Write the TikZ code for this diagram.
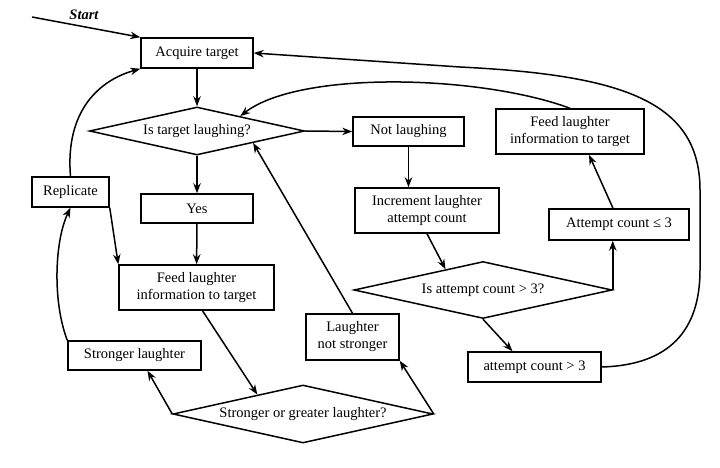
\documentclass[tikz,border=0pt]{standalone}
\usepackage{fontspec}
\setmainfont{Liberation Serif}
\usepackage{tikz}
\usetikzlibrary{arrows.meta,calc,positioning,shapes.geometric}

\begin{document}
\begin{tikzpicture}[x=1pt,y=-1pt,
    line width=1.5pt,
    every node/.style={font=\fontsize{14.5}{17}\selectfont},
    box/.style={draw,rectangle,inner sep=0pt,align=center},
    choice/.style={draw,diamond,inner sep=0pt,aspect=4.5},
    arr/.style={-{Stealth[length=10pt,width=7.5pt]}}]
  \useasboundingbox (0,0) rectangle (720,468);
  % main column
  \node[box,minimum width=112,minimum height=30] (acq) at (197,53) {Acquire target};
  \node[choice,minimum width=215,minimum height=48] (dlaugh) at (197,131) {Is target laughing?};
  \node[box,minimum width=112,minimum height=29] (yes) at (197,208.5) {Yes};
  \node[box,minimum width=155,minimum height=45] (feedl) at (196.5,287.5) {Feed laughter\\information to target};
  \node[choice,minimum width=260,minimum height=58] (dstrong) at (303,414) {Stronger or greater laughter?};
  \node[box,minimum width=133,minimum height=29] (strong) at (134.5,355.5) {Stronger laughter};
  \node[box,minimum width=77,minimum height=30] (repl) at (70.5,192) {Replicate};
  \node[box,minimum width=93,minimum height=46] (notstr) at (352.5,337) {Laughter\\not stronger};
  % not laughing branch
  \node[box,minimum width=111,minimum height=29] (notl) at (408.5,131.5) {Not laughing};
  \node[box,minimum width=144,minimum height=45] (incr) at (427,210.5) {Increment laughter\\attempt count};
  \node[choice,minimum width=258,minimum height=57] (dcount) at (483,290) {Is attempt count > 3?};
  \node[box,minimum width=140,minimum height=31] (le3) at (619,224.5) {Attempt count ≤ 3};
  \node[box,minimum width=148,minimum height=45] (feedr) at (570,131.5) {Feed laughter\\information to target};
  \node[box,minimum width=133,minimum height=30] (gt3) at (534.5,367) {attempt count > 3};
  % start
  \coordinate (s0) at (32,17);
  \node[font=\fontsize{14.5}{17}\selectfont\bfseries\itshape] (start) at (84,15) {Start};
  \draw[arr] (s0) -- (acq.north west);
  % connectors
  \draw[arr] (acq) -- (dlaugh);
  \draw[arr] (dlaugh) -- (yes);
  \draw[arr] (yes) -- (feedl);
  \draw[arr] (dlaugh.east) -- (notl.west);
  \draw[arr] ([xshift=6pt]feedl.south) -- (dstrong.157);
  \draw[arr] (dstrong.west) -- ([xshift=13pt]strong.south);
  \draw[arr] (dstrong.east) -- (notstr.south east);
  \draw[arr] (notstr.north) -- (dlaugh.-12);
  \draw[arr] (strong.north west) .. controls (52,300) and (55,240) .. (repl.south);
  \draw[arr] (repl.north) .. controls (65,110) and (100,80) .. (acq.south west);
  \draw[arr] (repl.south east) -- (feedl.north west);
  \draw[arr] (notl.south) -- (notl.south |- incr.north);
  \draw[arr] (incr.south) -- (dcount.151);
  \draw[arr] (dcount.east) -- (dcount.east |- le3.south);
  \draw[arr] ([xshift=-6pt]le3.north) -- ([xshift=19pt]feedr.south);
  \draw[arr] (feedr.north) .. controls (480,75) and (300,70) .. (dlaugh.19);
  \draw[arr] (dcount.south) -- ([xshift=-22pt]gt3.north);
  \draw[arr] (gt3.east) .. controls (670,365) and (700,330) .. (700,270) -- (700,190)
    .. controls (700,100) and (620,75) .. (460,67) -- (acq.east);
\end{tikzpicture}
\end{document}
